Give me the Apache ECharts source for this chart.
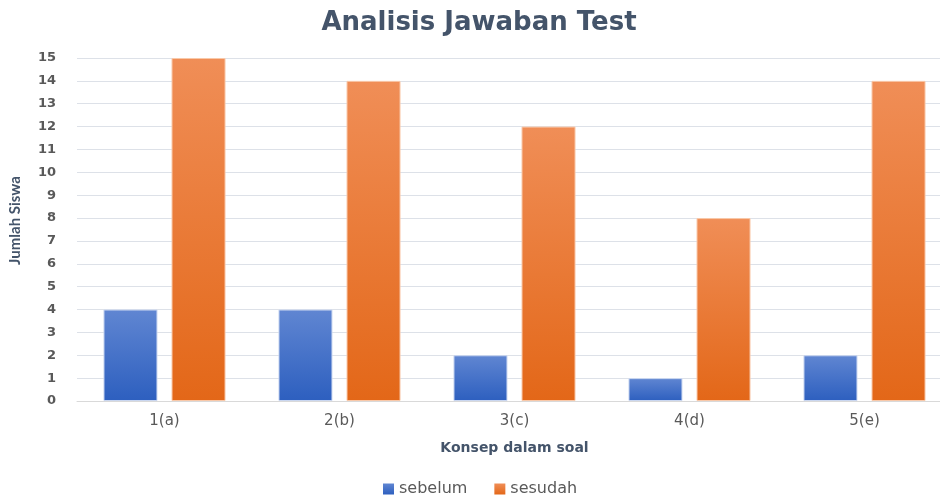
<!DOCTYPE html>
<html><head><meta charset="utf-8">
<script src="https://cdn.jsdelivr.net/npm/echarts@6/dist/echarts.min.js"></script>
<style>html,body{margin:0;padding:0;background:#fff}#c{width:940px;height:499px}</style>
</head><body><div id="c"></div>
<script>
const categories = ['1(a)', '2(b)', '3(c)', '4(d)', '5(e)'];
const sebelum = [4, 4, 2, 1, 2];
const sesudah = [15, 14, 12, 8, 14];
const seriesNames = ['sebelum', 'sesudah'];

const chart = echarts.init(document.getElementById('c'));
function grad(top, bottom) {
  return new echarts.graphic.LinearGradient(0, 0, 0, 1, [{offset: 0, color: top}, {offset: 1, color: bottom}]);
}
chart.setOption({
  animation: false,
  title: {
    text: 'Analisis Jawaban Test', left: 474, top: 5, textAlign: 'center',
    textStyle: {fontFamily: 'DejaVu Sans', fontWeight: 'bold', fontSize: 26, color: '#44546a'}
  },
  legend: {
    data: seriesNames, bottom: -3, left: 378, itemWidth: 11, itemHeight: 11, itemGap: 27,
    icon: 'rect',
    itemStyle: {borderWidth: 0},
    textStyle: {fontFamily: 'DejaVu Sans', fontSize: 16, color: '#595959'}
  },
  grid: {left: 77, top: 58, width: 875, height: 343, containLabel: false, outerBoundsMode: 'none'},
  xAxis: {
    type: 'category', data: categories,
    name: 'Konsep dalam soal', nameLocation: 'middle', nameGap: 40,
    nameTextStyle: {fontFamily: 'DejaVu Sans', fontWeight: 'bold', fontSize: 14, color: '#44546a'},
    axisLine: {lineStyle: {color: '#d9d9d9'}},
    axisTick: {show: false},
    axisLabel: {fontFamily: 'DejaVu Sans', fontSize: 15, color: '#595959', margin: 13}
  },
  yAxis: {
    type: 'value', min: 0, max: 15, interval: 1,
    name: 'Jumlah Siswa', nameLocation: 'middle', nameGap: 54, nameRotate: 90,
    nameTextStyle: {fontFamily: 'Lato', fontWeight: 'bold', fontSize: 15, color: '#44546a', padding: [0, 0, 0, 18]},
    axisLine: {show: false}, axisTick: {show: false},
    axisLabel: {fontFamily: 'DejaVu Sans', fontWeight: 'bold', fontSize: 13, color: '#595959', margin: 21},
    splitLine: {lineStyle: {color: '#dde1e8', width: 1}}
  },
  series: [
    {
      name: seriesNames[0], type: 'bar', data: sebelum, barWidth: 54, barGap: '26%', barCategoryGap: '30%',
      itemStyle: {color: grad('#6086d2', '#2d5fbf'), borderColor: '#c9d6f0', borderWidth: 1}
    },
    {
      name: seriesNames[1], type: 'bar', data: sesudah, barWidth: 54,
      itemStyle: {color: grad('#f08e57', '#e36718'), borderColor: '#f9c8a8', borderWidth: 1}
    }
  ]
});
</script></body></html>
